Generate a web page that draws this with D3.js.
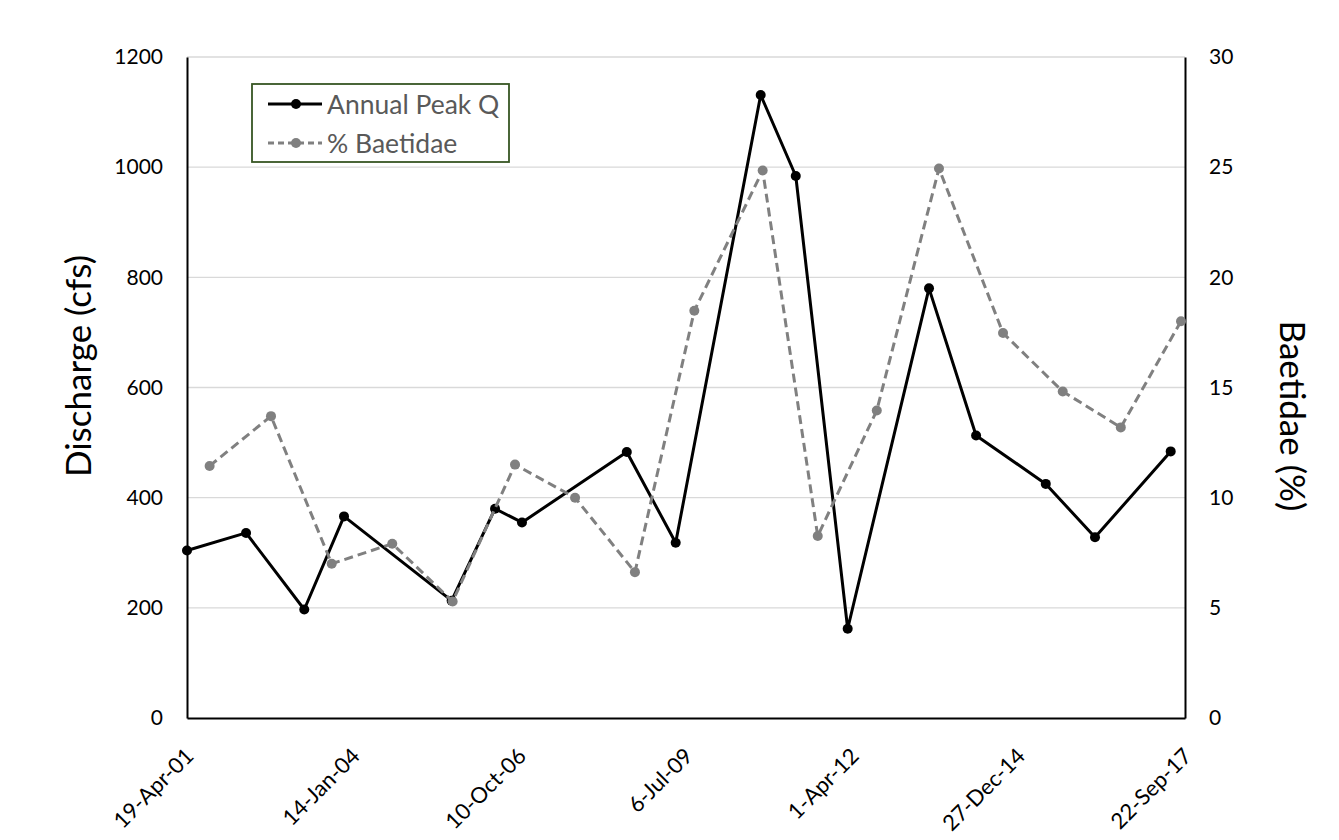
<!DOCTYPE html>
<html>
<head>
<meta charset="utf-8">
<script src="https://cdn.jsdelivr.net/npm/d3@7"></script>
<style>
  html, body { margin: 0; padding: 0; background: #ffffff; }
  svg { display: block; }
  text { font-family: Lato, "Open Sans", "Liberation Sans", sans-serif; }
</style>
</head>
<body>
<svg id="chart" width="1339" height="840"></svg>
<script>
// ---- data ----
const peakDates = ["2001-04-19","2002-04-09","2003-03-25","2003-11-19","2005-08-27","2006-05-15","2006-10-24","2008-07-15","2009-05-05","2010-09-28","2011-04-27","2012-03-04","2013-07-06","2014-04-15","2015-06-08","2016-03-30","2017-06-28"];
const peakQ = [304, 336, 197, 366, 213, 380, 355, 483, 318, 1131, 984, 162, 780, 513, 425, 328, 484];

const baetDates = ["2001-09-02","2002-09-06","2003-09-06","2004-09-04","2005-09-02","2006-09-12","2007-09-08","2008-09-02","2009-08-25","2010-10-10","2011-09-06","2012-08-26","2013-09-04","2014-09-24","2015-09-18","2016-09-01","2017-08-29"];
const baetPct = [11.44, 13.70, 7.00, 7.91, 5.29, 11.50, 10.00, 6.62, 18.48, 24.85, 8.26, 13.96, 24.94, 17.47, 14.82, 13.19, 18.01];

const xTickDates = ["2001-04-19","2004-01-14","2006-10-10","2009-07-06","2012-04-01","2014-12-27","2017-09-22"];
const leftTicks = [0, 200, 400, 600, 800, 1000, 1200];
const rightTicks = [0, 5, 10, 15, 20, 25, 30];
const seriesNames = ["Annual Peak Q", "% Baetidae"];
const axisTitles = ["Discharge (cfs)", "Baetidae (%)"];

// ---- layout ----
const L = 187, R = 1185, T = 57, B = 718;
const parse = d3.timeParse("%Y-%m-%d");
const fmt = d3.timeFormat("%-d-%b-%y");

const svg = d3.select("#chart");
const x = d3.scaleTime().domain([parse(xTickDates[0]), parse(xTickDates[xTickDates.length-1])]).range([L, R]);
const yL = d3.scaleLinear().domain([0, 1200]).range([B, T]);
const yR = d3.scaleLinear().domain([0, 30]).range([B, T]);

// gridlines
svg.append("g").selectAll("line").data(leftTicks.filter(d => d > 0)).join("line")
  .attr("x1", L).attr("x2", R)
  .attr("y1", d => yL(d)).attr("y2", d => yL(d))
  .attr("stroke", "#d9d9d9").attr("stroke-width", 1.3);

// axes
const axL = svg.append("g").attr("transform", `translate(${L},0)`)
  .call(d3.axisLeft(yL).tickValues(leftTicks).tickSize(0).tickPadding(24).tickFormat(d3.format("d")));
const axR = svg.append("g").attr("transform", `translate(${R},0)`)
  .call(d3.axisRight(yR).tickValues(rightTicks).tickSize(0).tickPadding(24).tickFormat(d3.format("d")));
const axB = svg.append("g").attr("transform", `translate(0,${B})`)
  .call(d3.axisBottom(x).tickValues(xTickDates.map(parse)).tickSize(0).tickFormat(fmt));

[axL, axR, axB].forEach(a => {
  a.select(".domain").attr("stroke", "#000").attr("stroke-width", 2);
  a.selectAll("text").attr("fill", "#000").style("font-size", "21px");
});
axB.selectAll(".tick text")
  .style("font-size", "22px")
  .attr("text-anchor", "end")
  .attr("transform", "translate(2,34) rotate(-45)")
  .attr("dy", "0.35em").attr("y", 0);

// axis titles
svg.append("text").attr("transform", `translate(91,366) rotate(-90)`)
  .attr("text-anchor", "middle").style("font-size", "35px").attr("fill", "#000").text(axisTitles[0]);
svg.append("text").attr("transform", `translate(1280,416) rotate(90)`)
  .attr("text-anchor", "middle").style("font-size", "35px").attr("fill", "#000").text(axisTitles[1]);

// series
const peakData = peakDates.map((d, i) => ({ date: parse(d), v: peakQ[i] }));
const baetData = baetDates.map((d, i) => ({ date: parse(d), v: baetPct[i] }));

svg.append("path").datum(peakData)
  .attr("fill", "none").attr("stroke", "#000").attr("stroke-width", 3).attr("stroke-linejoin", "round")
  .attr("d", d3.line().x(d => x(d.date)).y(d => yL(d.v)));
svg.append("g").selectAll("circle").data(peakData).join("circle")
  .attr("cx", d => x(d.date)).attr("cy", d => yL(d.v)).attr("r", 5).attr("fill", "#000");

svg.append("path").datum(baetData)
  .attr("fill", "none").attr("stroke", "#808080").attr("stroke-width", 3).attr("stroke-dasharray", "9,5")
  .attr("d", d3.line().x(d => x(d.date)).y(d => yR(d.v)));
svg.append("g").selectAll("circle").data(baetData).join("circle")
  .attr("cx", d => x(d.date)).attr("cy", d => yR(d.v)).attr("r", 5).attr("fill", "#808080");

// legend
const lg = svg.append("g");
lg.append("rect").attr("x", 252).attr("y", 84).attr("width", 257).attr("height", 78)
  .attr("fill", "#fff").attr("stroke", "#375623").attr("stroke-width", 1.8);
const legendItems = [
  { name: seriesNames[0], color: "#000", dash: null, y: 104 },
  { name: seriesNames[1], color: "#808080", dash: "6,4", y: 143 }
];
legendItems.forEach(it => {
  lg.append("line").attr("x1", 268).attr("x2", 322).attr("y1", it.y).attr("y2", it.y)
    .attr("stroke", it.color).attr("stroke-width", 3).attr("stroke-dasharray", it.dash);
  lg.append("circle").attr("cx", 296).attr("cy", it.y).attr("r", 5).attr("fill", it.color);
  lg.append("text").attr("x", 327).attr("y", it.y).attr("dy", "0.36em")
    .style("font-size", "26.5px").attr("fill", "#595959").text(it.name);
});
</script>
</body>
</html>
